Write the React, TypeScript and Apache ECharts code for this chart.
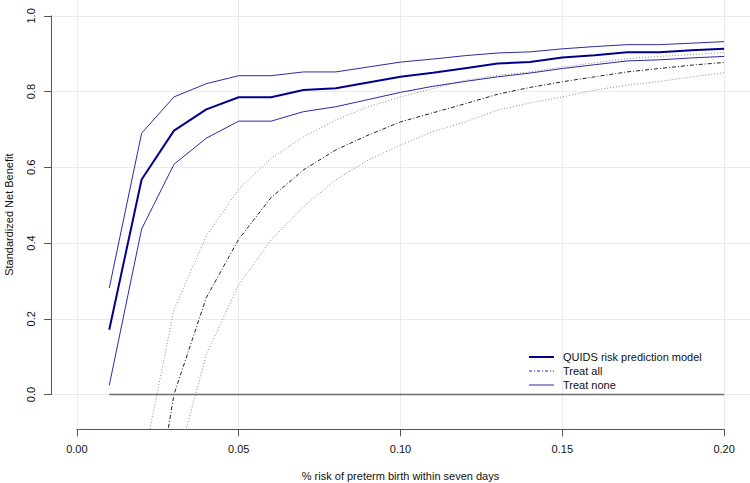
import React, { useEffect, useRef } from "react";
import * as echarts from "echarts";

// Decision threshold (x) values
const THRESHOLDS = [0.01, 0.02, 0.03, 0.04, 0.05, 0.06, 0.07, 0.08, 0.09, 0.10, 0.11, 0.12, 0.13, 0.14, 0.15, 0.16, 0.17, 0.18, 0.19, 0.20];

// QUIDS risk prediction model: standardized net benefit and its confidence band
const MODEL = [0.171, 0.568, 0.697, 0.753, 0.785, 0.785, 0.804, 0.809, 0.824, 0.839, 0.850, 0.862, 0.874, 0.878, 0.890, 0.896, 0.904, 0.904, 0.909, 0.913];
const MODEL_UPPER = [0.281, 0.690, 0.786, 0.821, 0.842, 0.842, 0.852, 0.852, 0.865, 0.878, 0.886, 0.895, 0.902, 0.905, 0.913, 0.919, 0.924, 0.924, 0.928, 0.932];
const MODEL_LOWER = [0.024, 0.437, 0.608, 0.677, 0.722, 0.722, 0.747, 0.760, 0.779, 0.798, 0.814, 0.827, 0.839, 0.849, 0.861, 0.871, 0.881, 0.884, 0.889, 0.893];

// Treat all strategy and its confidence band
const TREAT_ALL = [null, -0.51, 0.0, 0.256, 0.410, 0.520, 0.593, 0.646, 0.685, 0.720, 0.744, 0.768, 0.793, 0.811, 0.826, 0.839, 0.852, 0.861, 0.870, 0.877];
const TREAT_ALL_UPPER = [null, -0.20, 0.224, 0.419, 0.542, 0.624, 0.680, 0.725, 0.760, 0.786, 0.808, 0.830, 0.843, 0.852, 0.865, 0.876, 0.887, 0.893, 0.898, 0.903];
const TREAT_ALL_LOWER = [null, null, -0.21, 0.105, 0.290, 0.408, 0.496, 0.567, 0.619, 0.659, 0.694, 0.720, 0.751, 0.770, 0.786, 0.804, 0.817, 0.827, 0.839, 0.850];

// Treat none strategy
const TREAT_NONE = [0, 0, 0, 0, 0, 0, 0, 0, 0, 0, 0, 0, 0, 0, 0, 0, 0, 0, 0, 0];

// Axis ticks
const X_TICKS = [0, 0.05, 0.1, 0.15, 0.2];
const Y_TICKS = [0, 0.2, 0.4, 0.6, 0.8, 1.0];

const FONT = "'Liberation Sans', Arial, Helvetica, sans-serif";

const pairs = (ys: (number | null)[]) => THRESHOLDS.map((x, i) => [x, ys[i]]);

export default function App() {
  const ref = useRef<HTMLDivElement>(null);

  useEffect(() => {
    if (!ref.current) return;
    const chart = echarts.init(ref.current, null, { renderer: "svg" });

    const axisColor = "#555";
    const gridColor = "#ebebeb";
    const hiddenSymbol = { opacity: 0, color: "transparent", borderWidth: 0 };

    const option: any = {
      animation: false,
      textStyle: { fontFamily: FONT },
      grid: [
        { left: 51, right: 0, top: 0, bottom: 53.7, containLabel: false, outerBoundsMode: "none" },
        { left: 76.9, right: 25.9, top: 0, bottom: 53.7, containLabel: false, outerBoundsMode: "none" },
        { left: 51, right: 0, top: 15.9, bottom: 88.5, containLabel: false, outerBoundsMode: "none" },
      ],
      xAxis: [
        {
          gridIndex: 0,
          type: "value",
          min: -0.008,
          max: 0.208,
          axisLine: { show: false },
          axisTick: { show: false },
          axisLabel: { show: false },
          splitLine: { show: false },
          name: "% risk of preterm birth within seven days",
          nameLocation: "middle",
          nameGap: 41,
          nameTextStyle: { fontSize: 11, color: "#111", fontFamily: FONT },
        },
        {
          gridIndex: 1,
          type: "value",
          min: X_TICKS[0],
          max: X_TICKS[X_TICKS.length - 1],
          interval: 0.05,
          axisLine: { show: true, lineStyle: { color: axisColor, width: 1 } },
          axisTick: { show: true, inside: false, length: 7, lineStyle: { color: axisColor, width: 1 } },
          axisLabel: {
            show: true,
            margin: 14,
            fontSize: 11,
            color: "#111",
            fontFamily: FONT,
            formatter: (v: number) => v.toFixed(2),
          },
          splitLine: { show: true, lineStyle: { color: gridColor, width: 1 } },
        },
        { gridIndex: 2, type: "value", min: 0, max: 1, show: false },
      ],
      yAxis: [
        {
          gridIndex: 0,
          type: "value",
          min: -0.092,
          max: 1.042,
          axisLine: { show: false },
          axisTick: { show: false },
          axisLabel: { show: false },
          splitLine: { show: false },
          name: "Standardized Net Benefit",
          nameLocation: "middle",
          nameGap: 37,
          nameTextStyle: { fontSize: 11, color: "#111", fontFamily: FONT },
        },
        { gridIndex: 1, type: "value", min: 0, max: 1, show: false },
        {
          gridIndex: 2,
          type: "value",
          min: Y_TICKS[0],
          max: Y_TICKS[Y_TICKS.length - 1],
          interval: 0.2,
          axisLine: { show: true, lineStyle: { color: axisColor, width: 1 } },
          axisTick: { show: true, inside: false, length: 7, lineStyle: { color: axisColor, width: 1 } },
          axisLabel: {
            show: true,
            rotate: 90,
            margin: 15,
            fontSize: 11,
            color: "#111",
            fontFamily: FONT,
            formatter: (v: number) => v.toFixed(1),
          },
          splitLine: { show: true, lineStyle: { color: gridColor, width: 1 } },
        },
      ],
      legend: {
        orient: "vertical",
        left: 528,
        top: 350,
        padding: 0,
        itemWidth: 25,
        itemHeight: 14,
        itemGap: 0,
        textStyle: { fontSize: 11, color: "#111", fontFamily: FONT, lineHeight: 14, padding: [0, 0, 0, 4] },
        data: [
          {
            name: "QUIDS risk prediction model",
            itemStyle: hiddenSymbol,
            lineStyle: { color: "#00008B", width: 2, type: "solid" },
          },
          {
            name: "Treat all",
            itemStyle: hiddenSymbol,
            lineStyle: { color: "#1c1cc8", width: 1, type: [3, 2, 1, 2] },
          },
          {
            name: "Treat none",
            itemStyle: hiddenSymbol,
            lineStyle: { color: "#2a2aa8", width: 1, type: "solid" },
          },
        ],
      },
      series: [
        {
          name: "Treat all upper",
          type: "line",
          data: pairs(TREAT_ALL_UPPER),
          symbol: "none",
          clip: true,
          lineStyle: { color: "#8a8a8a", width: 1, type: [1, 2] },
        },
        {
          name: "Treat all lower",
          type: "line",
          data: pairs(TREAT_ALL_LOWER),
          symbol: "none",
          clip: true,
          lineStyle: { color: "#8a8a8a", width: 1, type: [1, 2] },
        },
        {
          name: "Treat all",
          type: "line",
          data: pairs(TREAT_ALL),
          symbol: "none",
          clip: true,
          itemStyle: { color: "#1c1cc8" },
          lineStyle: { color: "#222", width: 1, type: [4, 2, 1, 2] },
        },
        {
          name: "Treat none",
          type: "line",
          data: pairs(TREAT_NONE),
          symbol: "none",
          clip: true,
          itemStyle: { color: "#2a2aa8" },
          lineStyle: { color: "#6e6e6e", width: 1.5 },
        },
        {
          name: "QUIDS upper",
          type: "line",
          data: pairs(MODEL_UPPER),
          symbol: "none",
          clip: true,
          lineStyle: { color: "#2a2aa8", width: 1 },
        },
        {
          name: "QUIDS lower",
          type: "line",
          data: pairs(MODEL_LOWER),
          symbol: "none",
          clip: true,
          lineStyle: { color: "#2a2aa8", width: 1 },
        },
        {
          name: "QUIDS risk prediction model",
          type: "line",
          data: pairs(MODEL),
          symbol: "none",
          clip: true,
          itemStyle: { color: "#00008B" },
          lineStyle: { color: "#00008B", width: 2 },
        },
      ],
    };

    chart.setOption(option);
    return () => chart.dispose();
  }, []);

  return (
    <div
      ref={ref}
      style={{ position: "fixed", left: 0, top: 0, width: 750, height: 483, background: "#fff" }}
    />
  );
}
